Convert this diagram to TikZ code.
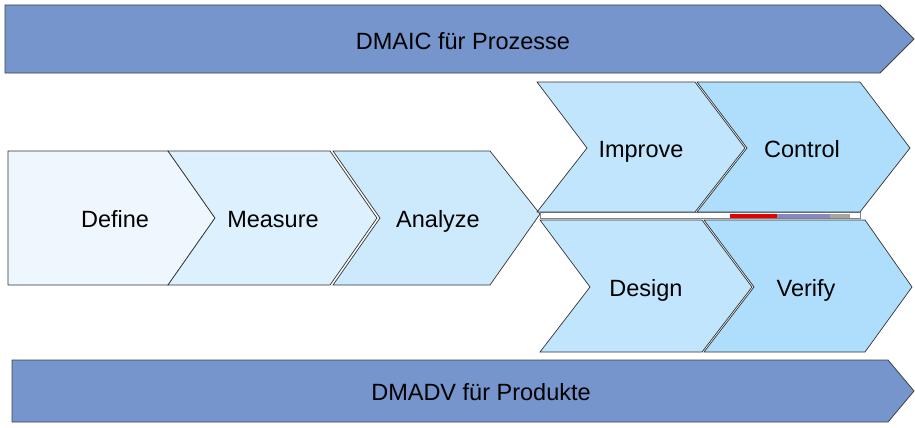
\documentclass[tikz,border=0pt]{standalone}
\usepackage{fontspec}
\setmainfont{Liberation Sans}
\begin{document}
\begin{tikzpicture}[x=1pt,y=-1pt,
  lbl/.style={font=\fontsize{23.5}{26}\selectfont, text=black, inner sep=0pt, anchor=base},
  chev/.style={draw=black!80, line width=0.7pt, line join=miter},
  banner/.style={draw=black!75, line width=0.8pt, fill=bannerblue}]
\definecolor{bannerblue}{HTML}{7595CC}
\definecolor{cA}{HTML}{EEF7FE}
\definecolor{cB}{HTML}{DDF0FD}
\definecolor{cC}{HTML}{CDEAFC}
\definecolor{cD}{HTML}{C0E5FC}
\definecolor{cE}{HTML}{AEDEFB}
\useasboundingbox (0,0) rectangle (915,428);
% banners
\path[banner] (5,5) -- (880,5) -- (914,39) -- (880,73) -- (5,73) -- cycle;
\node[lbl] (dmaic) at (463,50) {DMAIC für Prozesse};
\path[banner] (12,360) -- (888,360) -- (914,391) -- (888,422) -- (12,422) -- cycle;
\node[lbl] (dmadv) at (481,400) {DMADV für Produkte};
% left chain
\path[chev, fill=cA] (8,151) -- (168,151) -- (215,218) -- (168,285) -- (8,285) -- cycle;
\path[chev, fill=cB] (168,151) -- (330,151) -- (377,218) -- (330,285) -- (168,285) -- (215,218) -- cycle;
\path[chev, fill=cC] (333,151) -- (490,151) -- (540,214) -- (490,285) -- (333,285) -- (380,218) -- cycle;
\node[lbl] (define) at (115,227) {Define};
\node[lbl] (measure) at (273,227) {Measure};
\node[lbl] (analyze) at (438,227) {Analyze};
% gap strip
\path[draw=black!50, line width=0.5pt, fill=white] (540,212.5) rectangle (860,218.5);
\fill[red!90!black] (730,213.5) rectangle (777,218);
\fill[blue!35!gray!70] (777,213.5) rectangle (830,218);
\fill[gray!70] (830,213.5) rectangle (850,218);
% upper branch
\path[chev, fill=cD] (537,82) -- (695,82) -- (745,148) -- (695,212) -- (537,212) -- (587,148) -- cycle;
\path[chev, fill=cE] (697,82) -- (860,82) -- (910,148) -- (860,212) -- (697,212) -- (747,148) -- cycle;
\node[lbl] (improve) at (641,157) {Improve};
\node[lbl] (control) at (802,157) {Control};
% lower branch
\path[chev, fill=cD] (540,220) -- (702,220) -- (752,287) -- (702,352) -- (540,352) -- (590,287) -- cycle;
\path[chev, fill=cE] (704,220) -- (865,220) -- (912,287) -- (865,352) -- (704,352) -- (754,287) -- cycle;
\node[lbl] (design) at (646,296) {Design};
\node[lbl] (verify) at (806,296) {Verify};
\end{tikzpicture}
\end{document}
